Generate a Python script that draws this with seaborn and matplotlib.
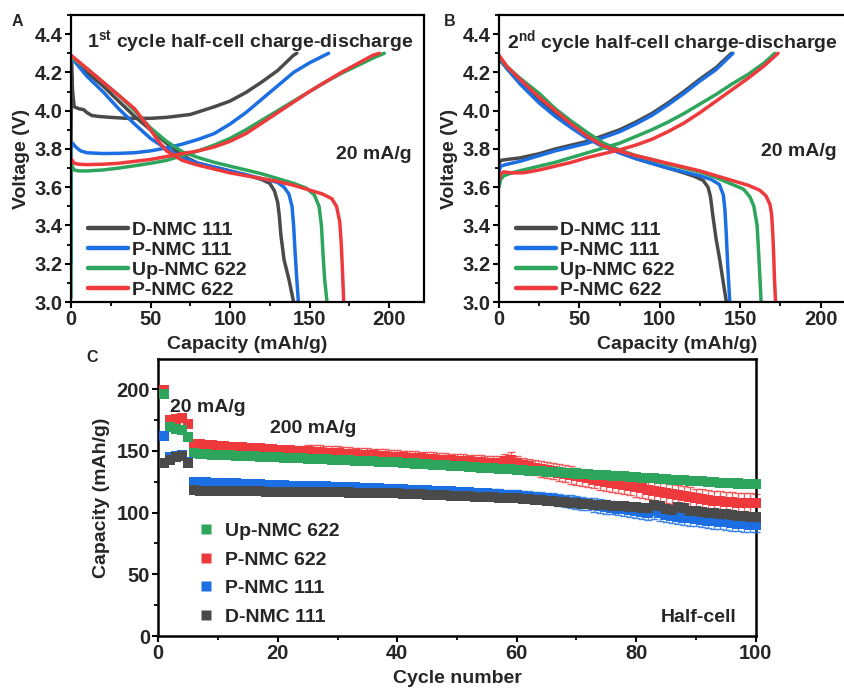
import numpy as np
import pandas as pd
import matplotlib
matplotlib.use("Agg")
import matplotlib.pyplot as plt
from matplotlib.ticker import MultipleLocator
from matplotlib.lines import Line2D
import seaborn as sns

sns.set_theme(style="ticks")
plt.rcParams["font.family"] = ["Liberation Sans", "DejaVu Sans"]
plt.rcParams["font.weight"] = "bold"
plt.rcParams["axes.labelweight"] = "bold"
plt.rcParams["mathtext.fontset"] = "custom"
plt.rcParams["mathtext.rm"] = "Liberation Sans:bold"
plt.rcParams["mathtext.bf"] = "Liberation Sans:bold"
plt.rcParams["mathtext.default"] = "bf"

# ---------------- colours ----------------
C_D111 = "#4a4a4a"
C_P111 = "#1c6fe3"
C_UP622 = "#2ea55c"
C_P622 = "#ee3a3c"

names = ["D-NMC 111", "P-NMC 111", "Up-NMC 622", "P-NMC 622"]
colors = [C_D111, C_P111, C_UP622, C_P622]

# ---------------- 1st cycle (capacity mAh/g, voltage V) ----------------
c1_d111_chg_q = [0, 0.3, 1.0, 2.0, 5, 8, 10, 13, 17, 25, 35, 50, 60, 75, 90, 100, 110, 120, 130, 140, 142]
c1_d111_chg_v = [3.80, 4.25, 4.10, 4.02, 4.01, 4.005, 3.99, 3.975, 3.97, 3.965, 3.96, 3.96, 3.965, 3.98, 4.02, 4.05, 4.095, 4.15, 4.21, 4.29, 4.30]
c1_d111_dis_q = [0, 5, 10, 20, 30, 40, 50, 60, 70, 80, 90, 100, 110, 120, 125, 128, 130, 131, 132, 134, 137, 140]
c1_d111_dis_v = [4.28, 4.24, 4.20, 4.13, 4.05, 3.97, 3.90, 3.83, 3.765, 3.725, 3.705, 3.685, 3.665, 3.64, 3.62, 3.58, 3.52, 3.45, 3.35, 3.22, 3.12, 3.00]

c1_p111_chg_q = [0, 0, 1, 3, 6, 10, 20, 30, 40, 50, 60, 70, 80, 90, 100, 110, 120, 130, 140, 150, 162]
c1_p111_chg_v = [3.20, 3.82, 3.83, 3.81, 3.79, 3.78, 3.776, 3.777, 3.78, 3.79, 3.805, 3.825, 3.85, 3.88, 3.93, 3.99, 4.06, 4.13, 4.20, 4.25, 4.30]
c1_p111_dis_q = [0, 5, 10, 20, 30, 40, 50, 60, 70, 80, 90, 100, 110, 120, 130, 134, 137, 139, 140, 141, 142, 143]
c1_p111_dis_v = [4.28, 4.23, 4.18, 4.10, 4.01, 3.93, 3.855, 3.80, 3.755, 3.725, 3.705, 3.685, 3.665, 3.645, 3.625, 3.60, 3.565, 3.50, 3.40, 3.25, 3.12, 3.00]

c1_up622_chg_q = [0, 0, 2, 5, 10, 20, 30, 40, 50, 60, 70, 80, 90, 100, 110, 120, 130, 140, 150, 160, 170, 180, 190, 197]
c1_up622_chg_v = [3.02, 3.72, 3.69, 3.685, 3.685, 3.69, 3.70, 3.712, 3.725, 3.74, 3.765, 3.79, 3.82, 3.855, 3.90, 3.95, 4.00, 4.05, 4.10, 4.15, 4.195, 4.235, 4.275, 4.30]
c1_up622_dis_q = [0, 10, 20, 30, 40, 50, 60, 70, 80, 90, 100, 110, 120, 130, 140, 148, 153, 156, 157.5, 158.5, 159.5, 161]
c1_up622_dis_v = [4.28, 4.22, 4.15, 4.08, 4.00, 3.91, 3.84, 3.785, 3.755, 3.73, 3.71, 3.69, 3.67, 3.645, 3.62, 3.595, 3.56, 3.50, 3.40, 3.25, 3.12, 3.00]

c1_p622_chg_q = [0, 2, 5, 10, 20, 30, 40, 50, 60, 70, 80, 90, 100, 110, 120, 130, 140, 150, 160, 170, 180, 190, 194]
c1_p622_chg_v = [3.75, 3.725, 3.72, 3.718, 3.72, 3.725, 3.735, 3.745, 3.76, 3.775, 3.79, 3.81, 3.84, 3.88, 3.935, 3.99, 4.045, 4.10, 4.15, 4.20, 4.245, 4.29, 4.30]
c1_p622_dis_q = [0, 10, 20, 30, 40, 50, 55, 60, 70, 80, 90, 100, 110, 120, 130, 140, 150, 158, 164, 167, 169, 170, 170.8, 171.5]
c1_p622_dis_v = [4.29, 4.22, 4.15, 4.08, 4.01, 3.90, 3.84, 3.79, 3.74, 3.715, 3.695, 3.675, 3.66, 3.645, 3.63, 3.61, 3.585, 3.565, 3.54, 3.50, 3.42, 3.30, 3.15, 3.00]

# ---------------- 2nd cycle ----------------
c2_d111_chg_q = [0, 1, 5, 13, 25, 35, 45, 55, 65, 75, 85, 95, 105, 115, 125, 135, 144.5]
c2_d111_chg_v = [3.72, 3.74, 3.745, 3.753, 3.775, 3.80, 3.82, 3.84, 3.87, 3.90, 3.94, 3.985, 4.04, 4.10, 4.165, 4.225, 4.30]
c2_d111_dis_q = [0, 5, 13, 25, 35, 45, 55, 65, 75, 85, 95, 105, 115, 122, 127, 130, 131.5, 133, 135, 137.3, 139.5, 141.4]
c2_d111_dis_v = [4.27, 4.22, 4.146, 4.05, 3.98, 3.92, 3.865, 3.815, 3.78, 3.75, 3.725, 3.70, 3.675, 3.655, 3.635, 3.60, 3.55, 3.45, 3.33, 3.22, 3.10, 3.00]

c2_p111_chg_q = [0, 1, 5, 13, 25, 35, 45, 55, 65, 75, 85, 95, 105, 115, 125, 135, 145.5]
c2_p111_chg_v = [3.68, 3.71, 3.72, 3.735, 3.765, 3.79, 3.81, 3.83, 3.86, 3.89, 3.93, 3.975, 4.03, 4.09, 4.155, 4.215, 4.30]
c2_p111_dis_q = [0, 5, 13, 25, 35, 45, 55, 65, 75, 85, 95, 105, 115, 125, 132, 137, 139.5, 140.5, 141.3, 142.3, 143.5]
c2_p111_dis_v = [4.28, 4.22, 4.14, 4.04, 3.97, 3.91, 3.855, 3.81, 3.78, 3.75, 3.725, 3.70, 3.68, 3.66, 3.64, 3.615, 3.56, 3.48, 3.36, 3.18, 3.00]

c2_up622_chg_q = [0, 1, 3, 8, 15, 25, 35, 45, 55, 65, 75, 85, 95, 105, 115, 125, 135, 145, 155, 165, 171.5]
c2_up622_chg_v = [3.60, 3.64, 3.66, 3.675, 3.69, 3.71, 3.73, 3.755, 3.78, 3.805, 3.83, 3.865, 3.90, 3.94, 3.985, 4.035, 4.085, 4.14, 4.19, 4.25, 4.30]
c2_up622_dis_q = [0, 5, 13, 25, 35, 45, 55, 65, 75, 85, 95, 105, 115, 125, 135, 145, 152, 156, 158.5, 160.5, 161.5, 162.3, 163]
c2_up622_dis_v = [4.28, 4.23, 4.17, 4.09, 4.01, 3.945, 3.885, 3.83, 3.795, 3.765, 3.745, 3.72, 3.70, 3.68, 3.65, 3.615, 3.59, 3.55, 3.50, 3.40, 3.25, 3.12, 3.00]

c2_p622_chg_q = [0, 1, 3, 8, 15, 25, 35, 45, 55, 65, 75, 85, 95, 105, 115, 125, 135, 145, 155, 165, 173.5]
c2_p622_chg_v = [3.64, 3.67, 3.68, 3.675, 3.675, 3.69, 3.71, 3.73, 3.755, 3.775, 3.795, 3.82, 3.85, 3.89, 3.935, 3.99, 4.05, 4.11, 4.17, 4.235, 4.30]
c2_p622_dis_q = [0, 5, 13, 25, 35, 45, 55, 65, 75, 85, 95, 105, 115, 125, 135, 145, 155, 162, 166, 168.5, 169.5, 170.3, 170.8, 171.3, 172]
c2_p622_dis_v = [4.29, 4.23, 4.164, 4.07, 4.00, 3.93, 3.865, 3.815, 3.788, 3.765, 3.745, 3.725, 3.705, 3.685, 3.66, 3.635, 3.61, 3.585, 3.555, 3.51, 3.46, 3.35, 3.25, 3.12, 3.00]

# ---------------- cycling (capacity mAh/g per cycle) ----------------
cycles = list(range(1, 101))

cap_up622 = [196, 169, 168, 167, 161, 148, 147.5, 147.2, 147.0, 146.8,
             146.5, 146.3, 146.1, 145.9, 145.7, 145.5, 145.3, 145.1, 144.9, 144.7,
             144.5, 144.3, 144.1, 143.9, 143.7, 143.5, 143.3, 143.1, 142.9, 142.7,
             142.5, 142.3, 142.1, 141.9, 141.7, 141.5, 141.3, 141.1, 140.9, 140.7,
             140.4, 140.1, 139.8, 139.5, 139.2, 138.9, 138.6, 138.3, 138.0, 137.7,
             137.4, 137.1, 136.8, 136.5, 136.2, 135.9, 135.6, 135.3, 135.0, 134.7,
             134.4, 134.1, 133.8, 133.5, 133.2, 132.9, 132.6, 132.3, 132.0, 131.7,
             131.4, 131.1, 130.8, 130.5, 130.2, 129.9, 129.6, 129.3, 129.0, 128.7,
             128.4, 128.0, 127.7, 127.4, 127.1, 126.8, 126.5, 126.2, 125.9, 125.6,
             125.3, 125.0, 124.7, 124.4, 124.1, 123.8, 123.6, 123.4, 123.2, 123.0]
err_up622 = [1.0, 1.0, 1.0, 1.0, 1.0, 1.0, 1.0, 1.0, 1.0, 1.0,
             1.0, 1.0, 1.0, 1.0, 1.0, 1.0, 1.0, 1.0, 1.0, 1.0,
             1.0, 1.0, 1.0, 1.0, 1.0, 1.0, 1.0, 1.0, 1.0, 1.0,
             1.0, 1.0, 1.0, 1.0, 1.0, 1.0, 1.0, 1.0, 1.0, 1.0,
             1.0, 1.0, 1.0, 1.0, 1.0, 1.0, 1.0, 1.0, 1.0, 1.0,
             1.2, 1.2, 1.2, 1.2, 1.2, 1.2, 1.2, 1.2, 1.2, 1.2,
             1.2, 1.2, 1.2, 1.2, 1.2, 1.2, 1.2, 1.2, 1.2, 1.2,
             1.5, 1.5, 1.5, 1.5, 1.5, 1.5, 1.5, 1.5, 1.5, 1.5,
             1.5, 1.5, 1.5, 1.5, 1.5, 1.5, 1.5, 1.5, 1.5, 1.5,
             1.5, 1.5, 1.5, 1.5, 1.5, 1.5, 1.5, 1.5, 1.5, 1.5]

cap_p622 = [199, 175, 176, 176.5, 172, 156, 155.5, 155.0, 154.6, 154.2,
            153.8, 153.5, 153.2, 152.9, 152.6, 152.3, 152.0, 151.7, 151.4, 151.1,
            150.8, 150.5, 150.2, 149.9, 149.6, 149.3, 149.0, 148.7, 148.4, 148.1,
            147.8, 147.5, 147.2, 146.9, 146.6, 146.3, 146.0, 145.7, 145.4, 145.1,
            144.8, 144.5, 144.2, 143.9, 143.6, 143.3, 143.0, 142.7, 142.4, 142.1,
            141.8, 141.5, 141.2, 140.9, 140.6, 140.3, 140.0, 141.5, 143.0, 140.0,
            138.5, 137.5, 136.5, 135.5, 134.5, 133.5, 132.5, 131.5, 130.5, 129.5,
            128.6, 127.7, 126.8, 125.9, 125.0, 124.1, 123.2, 122.3, 121.4, 120.5,
            119.6, 118.7, 117.8, 116.9, 116.0, 115.1, 114.2, 113.3, 112.4, 111.5,
            110.8, 110.2, 109.7, 109.2, 108.8, 108.4, 108.1, 107.8, 107.6, 107.4]
err_p622 = [1.0, 1.5, 1.5, 1.5, 1.5, 1.0, 1.0, 1.0, 1.0, 1.0,
            1.0, 1.0, 1.0, 1.0, 1.0, 1.0, 1.0, 1.0, 1.0, 1.0,
            1.5, 2.0, 3.0, 4.0, 5.0, 5.5, 5.5, 5.5, 5.5, 5.5,
            5.5, 5.5, 5.5, 5.5, 5.5, 5.5, 5.5, 5.5, 5.5, 5.5,
            5.5, 5.5, 5.5, 5.5, 5.5, 5.5, 5.5, 5.5, 5.5, 5.5,
            5.5, 5.5, 5.5, 5.5, 5.5, 5.5, 5.5, 6.0, 6.0, 6.0,
            6.0, 6.0, 6.0, 6.5, 6.5, 6.5, 6.5, 7.0, 7.0, 7.0,
            7.0, 7.0, 7.0, 7.5, 7.5, 7.5, 7.5, 7.5, 7.5, 7.5,
            8.0, 8.0, 8.0, 8.0, 8.0, 8.0, 8.0, 8.0, 8.0, 8.0,
            8.0, 8.0, 8.0, 8.0, 8.0, 8.0, 8.0, 8.0, 8.0, 8.0]

cap_p111 = [162, 145, 146, 146.5, 141, 125, 124.8, 124.6, 124.4, 124.2,
            124.0, 123.8, 123.6, 123.4, 123.2, 123.0, 122.8, 122.6, 122.4, 122.2,
            122.0, 121.8, 121.7, 121.6, 121.5, 121.4, 121.3, 121.2, 121.1, 121.0,
            120.8, 120.6, 120.4, 120.2, 120.0, 119.8, 119.6, 119.4, 119.2, 119.0,
            118.8, 118.6, 118.4, 118.2, 118.0, 117.8, 117.6, 117.4, 117.2, 117.0,
            116.7, 116.4, 116.1, 115.8, 115.5, 115.2, 114.9, 114.6, 114.3, 114.0,
            113.5, 113.0, 112.5, 112.0, 111.5, 111.0, 110.3, 109.6, 108.9, 108.2,
            107.5, 106.8, 106.1, 105.4, 104.7, 104.0, 103.3, 102.6, 101.9, 101.2,
            100.5, 99.8, 101.0, 99.5, 98.0, 97.3, 96.6, 96.0, 95.4, 94.8,
            94.2, 93.6, 93.0, 92.5, 92.0, 91.5, 91.0, 90.6, 90.3, 90.0]
err_p111 = [1.0, 1.0, 1.0, 1.0, 1.0, 1.0, 1.0, 1.0, 1.0, 1.0,
            1.0, 1.0, 1.0, 1.0, 1.0, 1.0, 1.0, 1.0, 1.0, 1.0,
            1.0, 1.0, 1.0, 1.0, 1.0, 1.0, 1.0, 1.0, 1.0, 1.0,
            1.0, 1.0, 1.0, 1.0, 1.0, 1.0, 1.0, 1.0, 1.0, 1.0,
            1.0, 1.0, 1.0, 1.0, 1.0, 1.5, 1.5, 2.0, 2.0, 2.5,
            2.5, 3.0, 3.0, 3.5, 3.5, 4.0, 4.0, 4.0, 4.0, 4.0,
            4.0, 4.5, 4.5, 4.5, 4.5, 4.5, 5.0, 5.0, 5.0, 5.0,
            5.0, 5.0, 5.5, 5.5, 5.5, 5.5, 5.5, 5.5, 5.5, 5.5,
            5.5, 5.5, 6.0, 6.0, 6.0, 6.0, 6.0, 6.0, 6.0, 6.0,
            6.0, 6.0, 6.0, 6.0, 6.0, 6.0, 6.0, 6.0, 6.0, 6.0]

cap_d111 = [140, 143, 145, 146, 140, 118, 117.8, 117.7, 117.6, 117.5,
            117.5, 117.4, 117.4, 117.3, 117.3, 117.2, 117.2, 117.1, 117.1, 117.0,
            117.0, 116.9, 116.9, 116.8, 116.8, 116.7, 116.7, 116.6, 116.6, 116.5,
            116.4, 116.3, 116.2, 116.1, 116.0, 115.9, 115.8, 115.7, 115.6, 115.5,
            115.3, 115.1, 114.9, 114.7, 114.5, 114.3, 114.1, 113.9, 113.7, 113.5,
            113.3, 113.1, 112.9, 112.7, 112.5, 112.3, 112.1, 111.9, 111.7, 111.5,
            111.1, 110.7, 110.3, 109.9, 109.5, 109.1, 108.7, 108.3, 107.9, 107.5,
            107.1, 106.8, 106.5, 106.2, 105.9, 105.6, 105.3, 105.0, 104.7, 104.4,
            104.1, 103.8, 106.0, 105.0, 103.0, 102.5, 104.5, 103.5, 101.5, 101.0,
            100.5, 100.0, 99.5, 99.0, 98.5, 98.0, 97.5, 97.0, 96.8, 96.5]
err_d111 = [1.5, 1.5, 1.5, 1.5, 1.5, 1.5, 1.5, 1.5, 1.5, 1.5,
            1.5, 1.5, 1.5, 1.5, 1.5, 1.5, 1.5, 1.5, 1.5, 1.5,
            1.5, 1.5, 1.5, 1.5, 1.5, 1.5, 1.5, 1.5, 1.5, 1.5,
            1.5, 1.5, 1.5, 1.5, 1.5, 1.5, 1.5, 1.5, 1.5, 1.5,
            1.5, 1.5, 1.5, 1.5, 1.5, 1.5, 1.5, 1.5, 1.5, 1.5,
            1.5, 1.5, 1.5, 1.5, 1.5, 1.5, 1.5, 1.5, 1.5, 1.5,
            2.0, 2.0, 2.0, 2.0, 2.0, 2.0, 2.0, 2.0, 2.0, 2.0,
            2.5, 2.5, 2.5, 2.5, 2.5, 2.5, 2.5, 2.5, 2.5, 2.5,
            3.0, 3.0, 3.0, 3.0, 3.0, 3.0, 3.0, 3.0, 3.0, 3.0,
            3.0, 3.0, 3.0, 3.0, 3.0, 3.0, 3.0, 3.0, 3.0, 3.0]

FS = 14
TICK_FS = 14.5

fig = plt.figure(figsize=(8.44, 6.92), dpi=100)
fig.patch.set_facecolor("white")

ax_a = fig.add_axes([71 / 844, 1 - 302 / 692, 353 / 844, 287 / 692])
ax_b = fig.add_axes([499 / 844, 1 - 302 / 692, 357 / 844, 287 / 692])
ax_c = fig.add_axes([158.3 / 844, 1 - 636 / 692, 597.4 / 844, 277 / 692])


def style_axes(ax, lw=1.6):
    for sp in ax.spines.values():
        sp.set_visible(True)
        sp.set_linewidth(lw)
        sp.set_color("black")
    ax.tick_params(which="major", direction="out", length=4.5, width=1.5,
                   labelsize=TICK_FS, pad=1.5, top=False, right=False, color="black")
    ax.tick_params(which="minor", direction="out", length=2.8, width=1.3,
                   top=False, right=False, color="black")
    for lab in ax.get_xticklabels() + ax.get_yticklabels():
        lab.set_fontweight("bold")
    ax.set_facecolor("white")
    ax.grid(False)


def draw_cycle(ax, curves):
    for (qc, vc, qd, vd), col in zip(curves, colors):
        sns.lineplot(x=qc, y=vc, ax=ax, sort=False, color=col, lw=2.5,
                     estimator=None, legend=False)
        sns.lineplot(x=qd, y=vd, ax=ax, sort=False, color=col, lw=2.5,
                     estimator=None, legend=False)
    ax.set_xlim(0, 222)
    ax.set_ylim(3.0, 4.5)
    ax.xaxis.set_major_locator(MultipleLocator(50))
    ax.xaxis.set_minor_locator(MultipleLocator(25))
    ax.yaxis.set_minor_locator(MultipleLocator(0.1))
    ax.set_yticks([3.0, 3.2, 3.4, 3.6, 3.8, 4.0, 4.2, 4.4])
    ax.set_yticklabels(["3.0", "3.2", "3.4", "3.6", "3.8", "4.0", "4.2", "4.4"])
    ax.set_xlabel("Capacity (mAh/g)", fontsize=FS, fontweight="bold", labelpad=5)
    ax.set_ylabel("Voltage (V)", fontsize=FS, fontweight="bold", labelpad=3)
    style_axes(ax)
    handles = [Line2D([0], [0], color=c, lw=3.2) for c in colors]
    ax.legend(handles, names, loc="lower left", bbox_to_anchor=(0.015, -0.03),
              frameon=False, handlelength=2.05, handletextpad=0.2,
              labelspacing=0.12, borderaxespad=0.2,
              prop={"weight": "bold", "size": FS})


curves1 = [
    (c1_d111_chg_q, c1_d111_chg_v, c1_d111_dis_q, c1_d111_dis_v),
    (c1_p111_chg_q, c1_p111_chg_v, c1_p111_dis_q, c1_p111_dis_v),
    (c1_up622_chg_q, c1_up622_chg_v, c1_up622_dis_q, c1_up622_dis_v),
    (c1_p622_chg_q, c1_p622_chg_v, c1_p622_dis_q, c1_p622_dis_v),
]
curves2 = [
    (c2_d111_chg_q, c2_d111_chg_v, c2_d111_dis_q, c2_d111_dis_v),
    (c2_p111_chg_q, c2_p111_chg_v, c2_p111_dis_q, c2_p111_dis_v),
    (c2_up622_chg_q, c2_up622_chg_v, c2_up622_dis_q, c2_up622_dis_v),
    (c2_p622_chg_q, c2_p622_chg_v, c2_p622_dis_q, c2_p622_dis_v),
]

draw_cycle(ax_a, curves1)
draw_cycle(ax_b, curves2)

ax_a.text(0.045, 0.955, r"1$^{st}$ cycle half-cell charge-discharge",
          transform=ax_a.transAxes, ha="left", va="top", fontsize=FS, fontweight="bold")
ax_a.text(0.965, 0.515, "20 mA/g", transform=ax_a.transAxes, ha="right",
          va="center", fontsize=FS, fontweight="bold")
ax_b.text(0.022, 0.955, r"2$^{nd}$ cycle half-cell charge-discharge",
          transform=ax_b.transAxes, ha="left", va="top", fontsize=FS, fontweight="bold")
ax_b.text(0.945, 0.525, "20 mA/g", transform=ax_b.transAxes, ha="right",
          va="center", fontsize=FS, fontweight="bold")

# ---------------- cycling panel ----------------
df = pd.DataFrame({
    "cycle": cycles * 4,
    "capacity": cap_p622 + cap_up622 + cap_p111 + cap_d111,
    "err": err_p622 + err_up622 + err_p111 + err_d111,
    "sample": (["P-NMC 622"] * 100 + ["Up-NMC 622"] * 100
               + ["P-NMC 111"] * 100 + ["D-NMC 111"] * 100),
})
palette = {"Up-NMC 622": C_UP622, "P-NMC 622": C_P622,
           "P-NMC 111": C_P111, "D-NMC 111": C_D111}
draw_order = ["P-NMC 622", "Up-NMC 622", "P-NMC 111", "D-NMC 111"]

for k, s in enumerate(draw_order):
    sub = df[df["sample"] == s]
    ax_c.errorbar(sub["cycle"], sub["capacity"], yerr=sub["err"], fmt="none",
                  ecolor=palette[s], elinewidth=1.0, capsize=2.7, capthick=1.0,
                  alpha=0.8, zorder=2 + 2 * k, clip_on=False)
    sns.scatterplot(data=sub, x="cycle", y="capacity", ax=ax_c, marker="s",
                    s=52, color=palette[s], edgecolor="none", linewidth=0,
                    zorder=3 + 2 * k, legend=False, clip_on=False)

ax_c.set_xlim(0, 100)
ax_c.set_ylim(0, 224.5)
ax_c.xaxis.set_major_locator(MultipleLocator(20))
ax_c.xaxis.set_minor_locator(MultipleLocator(10))
ax_c.yaxis.set_major_locator(MultipleLocator(50))
ax_c.yaxis.set_minor_locator(MultipleLocator(25))
ax_c.set_xlabel("Cycle number", fontsize=FS, fontweight="bold", labelpad=5)
ax_c.set_ylabel("Capacity (mAh/g)", fontsize=FS, fontweight="bold", labelpad=5)
style_axes(ax_c, lw=1.8)

leg_order = ["Up-NMC 622", "P-NMC 622", "P-NMC 111", "D-NMC 111"]
c_handles = [Line2D([0], [0], ls="none", marker="s", markersize=6.5,
                    markerfacecolor=palette[s], markeredgecolor="none") for s in leg_order]
ax_c.legend(c_handles, leg_order, loc="lower left", bbox_to_anchor=(0.035, -0.026),
            frameon=False, handlelength=1.0, handletextpad=0.45, labelspacing=0.56,
            prop={"weight": "bold", "size": FS})

ax_c.text(2.0, 185, "20 mA/g", ha="left", va="center", fontsize=FS, fontweight="bold")
ax_c.text(18.7, 168, "200 mA/g", ha="left", va="center", fontsize=FS, fontweight="bold")
ax_c.text(96.8, 14.6, "Half-cell", ha="right", va="center", fontsize=FS, fontweight="bold")

# panel letters
fig.text(17 / 844, 1 - 22 / 692, "A", ha="center", va="center", fontsize=11.5, fontweight="bold")
fig.text(450 / 844, 1 - 22 / 692, "B", ha="center", va="center", fontsize=11.5, fontweight="bold")
fig.text(92 / 844, 1 - 357 / 692, "C", ha="center", va="center", fontsize=11.5, fontweight="bold")

fig.savefig("out.png", dpi=100, facecolor="white")
